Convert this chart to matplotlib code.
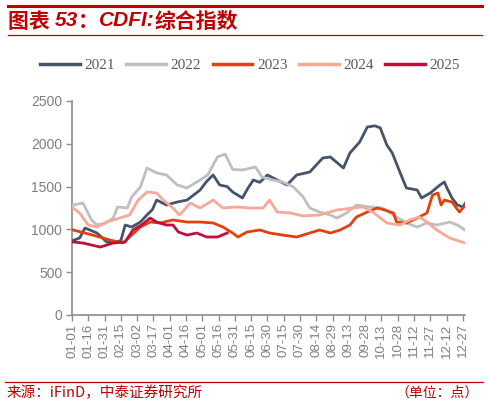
import matplotlib
matplotlib.use("Agg")
import matplotlib.pyplot as plt
from matplotlib.lines import Line2D

plt.rcParams['font.family'] = ['Liberation Sans', 'Noto Sans CJK SC', 'DejaVu Sans']

# ---- data (day of year, index value) ----
days_2021 = [1, 7, 12, 23, 32, 41, 45, 49, 55, 63, 69, 74, 78, 87, 97, 106, 118, 124, 130, 136, 143, 148,
             157, 162, 167, 173, 180, 189, 198, 207, 219, 231, 238, 250, 256, 265, 272, 279, 284, 290, 295,
             302, 308, 318, 322, 330, 339, 343, 345, 350, 355, 360, 363]
vals_2021 = [870, 900, 1016, 958, 853, 853, 870, 1051, 1028, 1086, 1168, 1230, 1343, 1285, 1320, 1343, 1460,
             1560, 1636, 1519, 1500, 1437, 1367, 1480, 1577, 1550, 1636, 1577, 1519, 1636, 1670, 1834, 1846,
             1717, 1893, 2021, 2196, 2210, 2185, 1986, 1893, 1670, 1484, 1460, 1367, 1425, 1519, 1554, 1495,
             1367, 1285, 1262, 1320]

days_2022 = [1, 10, 18, 23, 30, 38, 42, 51, 55, 63, 69, 78, 87, 97, 106, 118, 125, 134, 141, 148, 157, 169,
             175, 185, 194, 204, 213, 219, 228, 238, 244, 253, 262, 274, 286, 299, 308, 318, 327, 336, 348,
             355, 362]
vals_2022 = [1285, 1308, 1110, 1051, 1070, 1133, 1262, 1250, 1378, 1495, 1717, 1659, 1636, 1519, 1484, 1577,
             1636, 1846, 1880, 1700, 1694, 1729, 1612, 1577, 1554, 1495, 1378, 1250, 1203, 1168, 1133, 1192,
             1285, 1262, 1250, 1145, 1075, 1028, 1075, 1051, 1086, 1051, 993]

days_2023 = [1, 19, 35, 47, 53, 63, 72, 81, 93, 106, 118, 130, 139, 148, 153, 161, 173, 182, 194, 207, 219,
             228, 238, 247, 256, 262, 272, 281, 288, 296, 299, 308, 318, 327, 332, 337, 340, 343, 350, 354,
             357, 360, 362]
vals_2023 = [993, 934, 876, 841, 911, 1028, 1086, 1075, 1110, 1086, 1086, 1075, 1028, 958, 911, 969, 993, 958,
             934, 911, 958, 993, 958, 993, 1051, 1145, 1203, 1250, 1227, 1192, 1086, 1075, 1133, 1192, 1400,
             1425, 1285, 1343, 1320, 1250, 1203, 1250, 1270]

days_2024 = [1, 7, 15, 23, 32, 44, 53, 61, 69, 78, 84, 93, 99, 109, 118, 130, 139, 152, 164, 176, 182, 189,
             201, 213, 228, 244, 259, 268, 277, 290, 302, 311, 320, 327, 336, 348, 362]
vals_2024 = [1250, 1192, 1051, 1028, 1086, 1133, 1168, 1343, 1437, 1425, 1343, 1250, 1168, 1308, 1250, 1343,
             1250, 1262, 1250, 1250, 1343, 1203, 1192, 1157, 1168, 1227, 1250, 1262, 1203, 1075, 1051, 1110,
             1145, 1086, 993, 899, 841]

days_2025 = [1, 10, 26, 38, 49, 56, 64, 72, 78, 87, 93, 98, 106, 115, 124, 134, 143]
vals_2025 = [853, 841, 794, 841, 853, 993, 1051, 1133, 1086, 1051, 1051, 969, 934, 958, 911, 911, 958]

series_names = ['2021', '2022', '2023', '2024', '2025']
series_colors = ['#44546A', '#BFBFBF', '#E2400E', '#F7A898', '#C0103E']

tick_days = list(range(0, 361, 15))
tick_labels = ['01-01', '01-16', '01-31', '02-15', '03-02', '03-17', '04-01', '04-16', '05-01', '05-16',
               '05-31', '06-15', '06-30', '07-15', '07-30', '08-14', '08-29', '09-13', '09-28', '10-13',
               '10-28', '11-12', '11-27', '12-12', '12-27']
y_ticks = [0, 500, 1000, 1500, 2000, 2500]

# ---- figure ----
W, H = 488, 405
fig = plt.figure(figsize=(W / 100, H / 100), dpi=100)
ax = fig.add_axes([72 / W, 1 - 315 / H, (465 - 72) / W, (315 - 101) / H])

data = [(days_2021, vals_2021), (days_2022, vals_2022), (days_2023, vals_2023),
        (days_2024, vals_2024), (days_2025, vals_2025)]
order = [1, 3, 0, 2, 4]
for i in order:
    d, v = data[i]
    ax.plot(d, v, color=series_colors[i], lw=2.0, solid_joinstyle='round', zorder=3 + i * 0.1)

ax.set_xlim(0, 362)
ax.set_ylim(0, 2500)
ax.set_xticks(tick_days)
ax.set_xticklabels(tick_labels, rotation=90, fontsize=9.5, color='#7F7F7F')
ax.set_yticks(y_ticks)
ax.set_yticklabels([str(t) for t in y_ticks], fontsize=10, color='#7F7F7F')
for s in ['top', 'right']:
    ax.spines[s].set_visible(False)
for s in ['left', 'bottom']:
    ax.spines[s].set_color('#8C8C8C')
    ax.spines[s].set_linewidth(1.2)
ax.tick_params(axis='both', direction='out', length=4, color='#8C8C8C', width=1, pad=3)
ax.tick_params(axis='x', pad=2)

# legend
handles = [Line2D([0], [0], color=c, lw=2.5) for c in series_colors]
fig.legend(handles, series_names, loc='center', bbox_to_anchor=(250 / W, 1 - 65 / H), ncol=5,
           frameon=False, handlelength=2.6, handletextpad=0.3, columnspacing=0.75,
           prop={'family': 'Liberation Serif', 'size': 11}, labelcolor='#595959')

# title + decorations
red = '#C00000'
cjk = ['Noto Sans CJK SC', 'DejaVu Sans']
fig.add_artist(Line2D([8 / W, 482 / W], [1 - 6 / H, 1 - 6 / H], color=red, lw=2.2))
fig.add_artist(Line2D([8 / W, 482 / W], [1 - 35 / H, 1 - 35 / H], color=red, lw=0.9))

renderer = fig.canvas.get_renderer()
title_parts = [('图表 ', cjk, 'normal'), ('53', ['Liberation Sans'], 'italic'), ('：', cjk, 'normal'),
               ('CDFI:', ['Liberation Sans'], 'italic'), ('综合指数', cjk, 'normal')]
xpos = 8
for txt, fam, sty in title_parts:
    t = fig.text(xpos / W, 1 - 21 / H, txt, color=red, fontsize=15, fontweight='bold',
                 fontstyle=sty, family=fam, va='center', ha='left')
    bb = t.get_window_extent(renderer)
    xpos += bb.width

fig.add_artist(Line2D([5 / W, 483 / W], [1 - 382 / H, 1 - 382 / H], color=red, lw=0.9))
fig.text(7 / W, 1 - 393 / H, '来源：iFinD，中泰证券研究所', color=red, fontsize=10.5,
         family=cjk, va='center', ha='left')
fig.text(479 / W, 1 - 393 / H, '（单位：点）', color=red, fontsize=10,
         family=cjk, va='center', ha='right')

fig.savefig('out.png', dpi=100)
